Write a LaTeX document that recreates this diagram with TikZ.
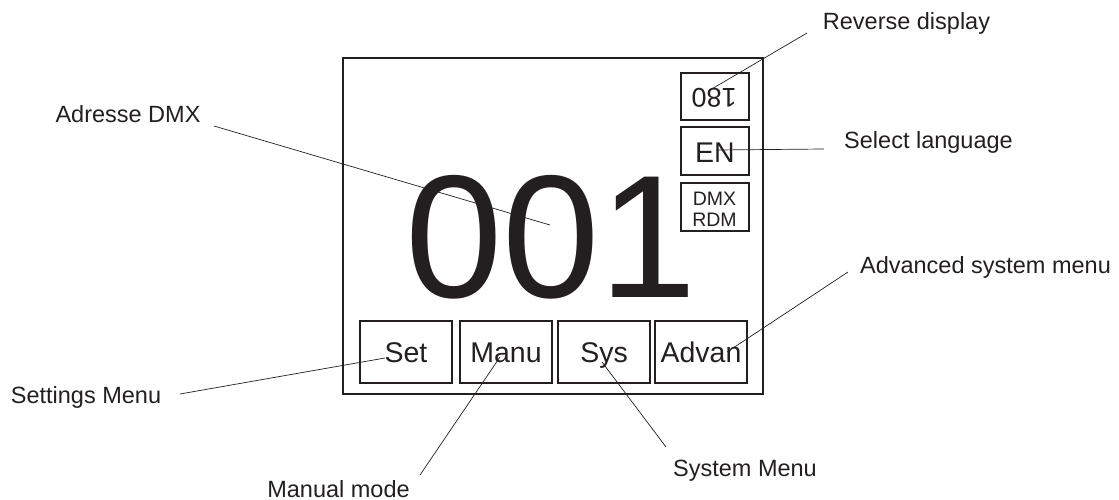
\documentclass[tikz,border=0pt]{standalone}
\usepackage{fontspec}
\setmainfont{Liberation Sans}
\definecolor{ink}{HTML}{231F20}
\tikzset{
  frame/.style={draw=ink, line width=1.5pt},
  keybox/.style={draw=ink, line width=1.1pt},
  keytext/.style={text=ink, inner sep=0pt, font=\fontsize{28.5}{30}\selectfont},
  callout/.style={text=ink, inner sep=0pt, anchor=base, font=\fontsize{23.5}{26}\selectfont},
  leader/.style={draw=ink, line width=0.7pt},
}
\begin{document}
\begin{tikzpicture}[x=1pt,y=-1pt]
\useasboundingbox (0,0) rectangle (1119,500);

% display outline
\draw[frame] (343,58) rectangle (763,394);

% status boxes on the right
\draw[keybox] (681,73) rectangle (749,120);
\draw[keybox] (681,127) rectangle (749,175);
\draw[keybox] (681,183) rectangle (749,231);
\node[text=ink, inner sep=0pt, rotate=180, font=\fontsize{27}{28}\selectfont] (rev) at (714,97.5) {180};
\node[keytext, anchor=base] (lang) at (715,162) {EN};
\node[text=ink, inner sep=0pt, align=center, font=\fontsize{19.5}{21}\selectfont] (proto) at (714.5,209.5) {DMX\\RDM};

% DMX address (the last digit's right side bearing is trimmed from the box)
\node[text=ink, inner sep=0pt, anchor=base west, font=\fontsize{175}{175}\selectfont] (addr) at (405,297) {001\kern-0.18em};

% menu keys
\draw[keybox] (360,321) rectangle (452,383);
\draw[keybox] (460,321) rectangle (552,383);
\draw[keybox] (558,321) rectangle (650,383);
\draw[keybox] (655,321) rectangle (747,383);
\node[keytext, anchor=base] (set)  at (406,362) {Set};
\node[keytext, anchor=base] (manu) at (506,362) {Manu};
\node[keytext, anchor=base] (sys)  at (604,362) {Sys};
\node[keytext, anchor=base] (adv)  at (701,362) {Advan};

% callout texts
\node[callout] (lrev)  at (906.5,30)  {Reverse display};
\node[callout] (llang) at (928.5,149) {Select language};
\node[callout] (laddr) at (128,123)   {Adresse DMX};
\node[callout] (lset)  at (86,403)    {Settings Menu};
\node[callout] (lmanu) at (338.5,497) {Manual mode};
\node[callout] (lsys)  at (745,476)   {System Menu};
\node[callout] (ladv)  at (985.5,273) {Advanced system menu};

% leader end points
\coordinate (rev-a)  at (807,33);   \coordinate (rev-b)  at (710,90);
\coordinate (lang-a) at (824,149);  \coordinate (lang-b) at (717,150);
\coordinate (addr-a) at (214,126);  \coordinate (addr-b) at (550,225);
\coordinate (set-a)  at (180,394);  \coordinate (set-b)  at (385,358);
\coordinate (manu-a) at (420,475);  \coordinate (manu-b) at (500,357);
\coordinate (sys-a)  at (666,447);  \coordinate (sys-b)  at (602,362);
\coordinate (adv-a)  at (848,272);  \coordinate (adv-b)  at (727,352);

% leader lines
\draw[leader] (rev-a) -- (rev-b);
\draw[leader] (lang-a) -- (lang-b);
\draw[leader] (addr-a) -- (addr-b);
\draw[leader] (set-a) -- (set-b);
\draw[leader] (manu-a) -- (manu-b);
\draw[leader] (sys-a) -- (sys-b);
\draw[leader] (adv-a) -- (adv-b);
\end{tikzpicture}
\end{document}
